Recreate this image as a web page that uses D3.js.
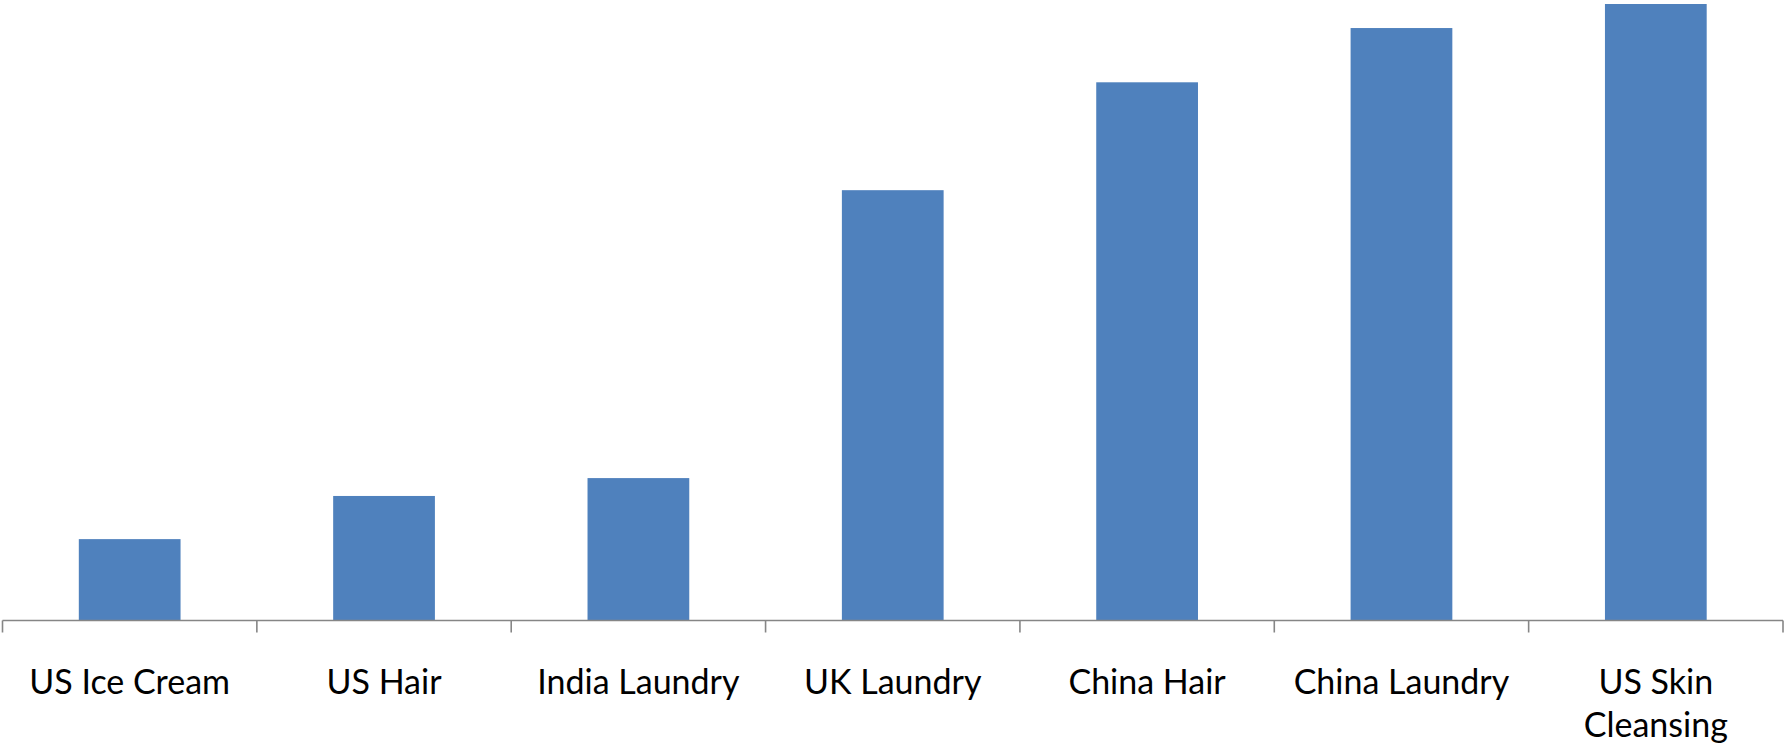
<!DOCTYPE html>
<html>
<head>
<meta charset="utf-8">
<script src="https://cdn.jsdelivr.net/npm/d3@7"></script>
<style>
  html, body { margin: 0; padding: 0; background: #ffffff; }
  svg { display: block; }
</style>
</head>
<body>
<svg id="chart" width="1785" height="746"></svg>
<script>
// Market categories, in plotted order
const categories = [
  "US Ice Cream",
  "US Hair",
  "India Laundry",
  "UK Laundry",
  "China Hair",
  "China Laundry",
  "US Skin Cleansing"
];

// Category labels split over lines as they appear under the axis
const tickLabels = [
  ["US Ice Cream"],
  ["US Hair"],
  ["India Laundry"],
  ["UK Laundry"],
  ["China Hair"],
  ["China Laundry"],
  ["US Skin", "Cleansing"]
];

// Bar values (index, largest = 100)
const values = [13.2, 20.2, 23.1, 69.8, 87.3, 96.1, 100];

const width = 1785, height = 746;
const axisY = 620.5;
const plotLeft = 2.5, plotRight = 1783;
const plotTop = 4;

const svg = d3.select("#chart");

const x = d3.scaleBand()
  .domain(categories)
  .range([plotLeft, plotRight])
  .paddingInner(0.6)
  .paddingOuter(0.3);

const y = d3.scaleLinear()
  .domain([0, 100])
  .range([axisY, plotTop]);

// Bars
svg.append("g")
  .selectAll("rect")
  .data(values)
  .join("rect")
  .attr("x", (d, i) => x(categories[i]))
  .attr("y", d => y(d))
  .attr("width", x.bandwidth())
  .attr("height", d => axisY - y(d))
  .attr("fill", "#4F81BD");

// Category axis with tick marks at band boundaries
const axisG = svg.append("g").attr("stroke", "#868686").attr("stroke-width", 1.6);
axisG.append("line")
  .attr("x1", plotLeft).attr("x2", plotRight)
  .attr("y1", axisY).attr("y2", axisY);

const step = x.step();
const boundaries = d3.range(categories.length + 1).map(i => plotLeft + i * step);
axisG.selectAll("line.tick")
  .data(boundaries)
  .join("line")
  .attr("class", "tick")
  .attr("x1", d => d).attr("x2", d => d)
  .attr("y1", axisY).attr("y2", axisY + 12);

// Category labels
const labels = svg.append("g")
  .attr("font-family", "Lato, 'Open Sans', sans-serif")
  .attr("font-size", 34)
  .attr("fill", "#000000")
  .attr("text-anchor", "middle");

labels.selectAll("text")
  .data(categories)
  .join("text")
  .attr("x", d => x(d) + x.bandwidth() / 2)
  .attr("y", 694)
  .each(function(d, i) {
    const t = d3.select(this);
    tickLabels[i].forEach((line, j) => {
      t.append("tspan")
        .attr("x", x(d) + x.bandwidth() / 2)
        .attr("dy", j === 0 ? 0 : 43)
        .text(line);
    });
  });
</script>
</body>
</html>
